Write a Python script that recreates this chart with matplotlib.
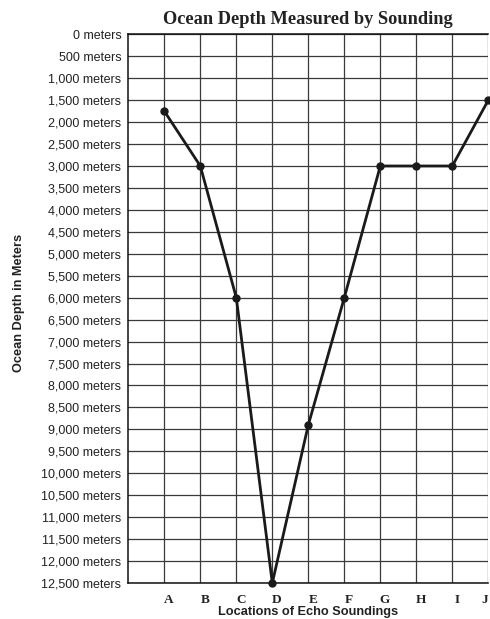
import matplotlib
matplotlib.use("Agg")
import matplotlib.pyplot as plt
from matplotlib.transforms import ScaledTranslation

locations = ["A", "B", "C", "D", "E", "F", "G", "H", "I", "J"]
depths = [1750, 3000, 6000, 12500, 8900, 6000, 3000, 3000, 3000, 1500]
depth_ticks = list(range(0, 12501, 500))
depth_labels = [f"{v:,} meters" for v in depth_ticks]

W, H = 490, 619
fig = plt.figure(figsize=(W / 100, H / 100), dpi=100)
left, right, top, bottom = 128.3, 488.3, 34.3, 583
ax = fig.add_axes([left / W, (H - bottom) / H, (right - left) / W, (bottom - top) / H])

xpos = list(range(1, len(locations) + 1))
ax.set_xlim(0, 10)
ax.set_ylim(12500, 0)
ax.set_xticks(xpos)
ax.set_xticklabels(locations, family="Liberation Serif", fontweight="bold", fontsize=9.5,
                   color="#222")
ax.set_yticks(depth_ticks)
ax.set_yticklabels(depth_labels, family="Liberation Sans", fontsize=9, color="#222")
ax.tick_params(axis="both", length=0)
ax.tick_params(axis="y", pad=5)
ax.tick_params(axis="x", pad=8)
labs = ax.get_xticklabels()
for i, lab in enumerate(labs):
    dx = 4.5 if i < len(labs) - 1 else -3.5
    lab.set_transform(lab.get_transform() + ScaledTranslation(dx / 100, 0, fig.dpi_scale_trans))

ax.grid(True, color="#3a3a3a", linewidth=0.9)
ax.set_axisbelow(True)
for s in ["left", "bottom", "top"]:
    ax.spines[s].set_color("#111")
    ax.spines[s].set_linewidth(1.1)
ax.spines["right"].set_visible(False)

ax.plot(xpos, depths, color="#1a1a1a", linewidth=2.0, marker="o", markersize=5,
        clip_on=False, zorder=3)

fig.text(308 / W, 1 - 19 / H, "Ocean Depth Measured by Sounding", ha="center", va="center",
         family="Liberation Serif", fontweight="bold", fontsize=13.2, color="#222")
fig.text(308 / W, 1 - 612 / H, "Locations of Echo Soundings", ha="center", va="center",
         family="Liberation Sans", fontweight="bold", fontsize=9.2, color="#222")
fig.text(19 / W, 1 - 303 / H, "Ocean Depth in Meters", ha="center", va="center", rotation=90,
         family="Liberation Sans", fontweight="bold", fontsize=9.2, color="#222")

fig.savefig("out.png", dpi=100)
